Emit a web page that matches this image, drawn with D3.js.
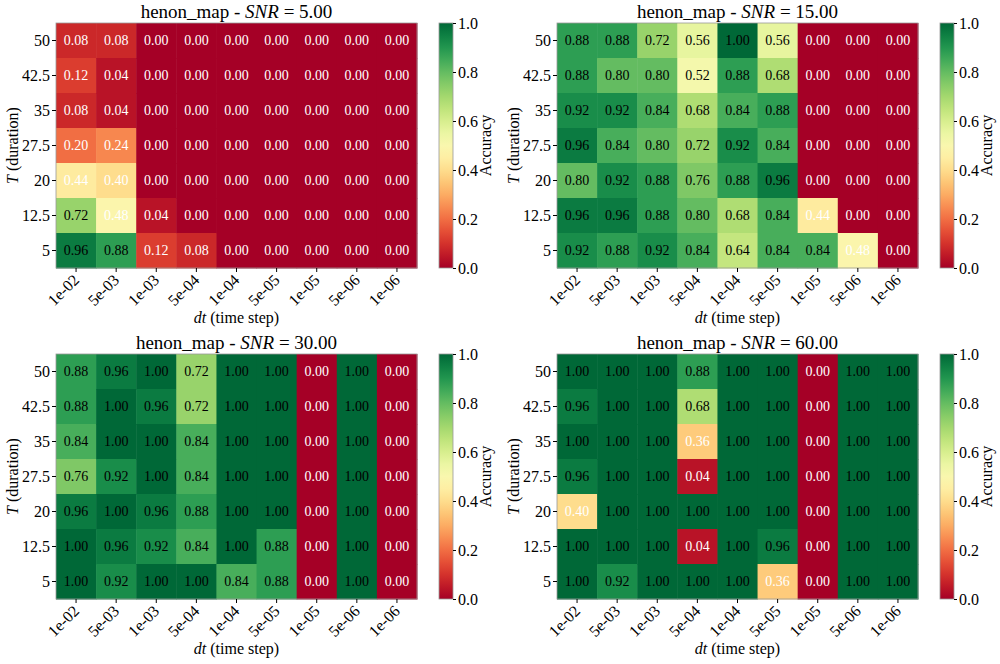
<!DOCTYPE html>
<html>
<head>
<meta charset="utf-8">
<script src="https://cdn.jsdelivr.net/npm/d3@7"></script>
<style>
  body { margin: 0; background: white; }
  svg text { font-family: "Liberation Serif", "DejaVu Serif", serif; fill: #000; }
</style>
</head>
<body>
<div id="chart"></div>
<script>
// axes labels
var dtLabels = ["1e-02", "5e-03", "1e-03", "5e-04", "1e-04", "5e-05", "1e-05", "5e-06", "1e-06"];
var tLabels = ["50", "42.5", "35", "27.5", "20", "12.5", "5"];
var snrValues = [5, 15, 30, 60];
var cbarTicks = [0, 0.2, 0.4, 0.6, 0.8, 1.0];

// accuracy grids, rows top (T=50) to bottom (T=5)
var accSnr5 = [
  [0.08, 0.08, 0.00, 0.00, 0.00, 0.00, 0.00, 0.00, 0.00],
  [0.12, 0.04, 0.00, 0.00, 0.00, 0.00, 0.00, 0.00, 0.00],
  [0.08, 0.04, 0.00, 0.00, 0.00, 0.00, 0.00, 0.00, 0.00],
  [0.20, 0.24, 0.00, 0.00, 0.00, 0.00, 0.00, 0.00, 0.00],
  [0.44, 0.40, 0.00, 0.00, 0.00, 0.00, 0.00, 0.00, 0.00],
  [0.72, 0.48, 0.04, 0.00, 0.00, 0.00, 0.00, 0.00, 0.00],
  [0.96, 0.88, 0.12, 0.08, 0.00, 0.00, 0.00, 0.00, 0.00]
];
var accSnr15 = [
  [0.88, 0.88, 0.72, 0.56, 1.00, 0.56, 0.00, 0.00, 0.00],
  [0.88, 0.80, 0.80, 0.52, 0.88, 0.68, 0.00, 0.00, 0.00],
  [0.92, 0.92, 0.84, 0.68, 0.84, 0.88, 0.00, 0.00, 0.00],
  [0.96, 0.84, 0.80, 0.72, 0.92, 0.84, 0.00, 0.00, 0.00],
  [0.80, 0.92, 0.88, 0.76, 0.88, 0.96, 0.00, 0.00, 0.00],
  [0.96, 0.96, 0.88, 0.80, 0.68, 0.84, 0.44, 0.00, 0.00],
  [0.92, 0.88, 0.92, 0.84, 0.64, 0.84, 0.84, 0.48, 0.00]
];
var accSnr30 = [
  [0.88, 0.96, 1.00, 0.72, 1.00, 1.00, 0.00, 1.00, 0.00],
  [0.88, 1.00, 0.96, 0.72, 1.00, 1.00, 0.00, 1.00, 0.00],
  [0.84, 1.00, 1.00, 0.84, 1.00, 1.00, 0.00, 1.00, 0.00],
  [0.76, 0.92, 1.00, 0.84, 1.00, 1.00, 0.00, 1.00, 0.00],
  [0.96, 1.00, 0.96, 0.88, 1.00, 1.00, 0.00, 1.00, 0.00],
  [1.00, 0.96, 0.92, 0.84, 1.00, 0.88, 0.00, 1.00, 0.00],
  [1.00, 0.92, 1.00, 1.00, 0.84, 0.88, 0.00, 1.00, 0.00]
];
var accSnr60 = [
  [1.00, 1.00, 1.00, 0.88, 1.00, 1.00, 0.00, 1.00, 1.00],
  [0.96, 1.00, 1.00, 0.68, 1.00, 1.00, 0.00, 1.00, 1.00],
  [1.00, 1.00, 1.00, 0.36, 1.00, 1.00, 0.00, 1.00, 1.00],
  [0.96, 1.00, 1.00, 0.04, 1.00, 1.00, 0.00, 1.00, 1.00],
  [0.40, 1.00, 1.00, 1.00, 1.00, 1.00, 0.00, 1.00, 1.00],
  [1.00, 1.00, 1.00, 0.04, 1.00, 0.96, 0.00, 1.00, 1.00],
  [1.00, 0.92, 1.00, 1.00, 1.00, 0.36, 0.00, 1.00, 1.00]
];
var grids = [accSnr5, accSnr15, accSnr30, accSnr60];

var W = 1000, H = 664;
var svg = d3.select("#chart").append("svg")
    .attr("width", W)
    .attr("height", H)
    .style("background-color", "white");

var color = d3.scaleSequential(d3.interpolateRdYlGn).domain([0, 1]);

// panel origins (top-left of the heatmap)
var origins = [[56, 23], [557, 23], [56, 354], [557, 354]];
var pw = 361, ph = 245;

grids.forEach(function(grid, k) {
  var g = svg.append("g")
      .attr("transform", "translate(" + origins[k][0] + "," + origins[k][1] + ")");

  var x = d3.scaleBand().domain(dtLabels).range([0, pw]);
  var y = d3.scaleBand().domain(tLabels).range([0, ph]);

  var cells = [];
  grid.forEach(function(row, i) {
    row.forEach(function(v, j) {
      cells.push({t: tLabels[i], dt: dtLabels[j], v: v});
    });
  });

  g.selectAll("rect.cell")
    .data(cells)
    .enter().append("rect")
      .attr("class", "cell")
      .attr("x", function(d) { return x(d.dt); })
      .attr("y", function(d) { return y(d.t); })
      .attr("width", x.bandwidth() + 0.5)
      .attr("height", y.bandwidth() + 0.5)
      .attr("fill", function(d) { return color(d.v); });

  g.selectAll("text.val")
    .data(cells)
    .enter().append("text")
      .attr("class", "val")
      .attr("x", function(d) { return x(d.dt) + x.bandwidth() / 2; })
      .attr("y", function(d) { return y(d.t) + y.bandwidth() / 2; })
      .attr("dy", "0.35em")
      .attr("text-anchor", "middle")
      .style("font-size", "14px")
      .style("fill", function(d) { return d.v < 0.5 ? "#fff" : "#000"; })
      .text(function(d) { return d.v.toFixed(2); });

  // frame
  g.append("rect")
    .attr("width", pw).attr("height", ph)
    .attr("fill", "none").attr("stroke", "#999").attr("stroke-width", 0.8);

  // y axis
  var yAxis = g.append("g").call(d3.axisLeft(y).tickSize(4).tickPadding(2));
  yAxis.attr("font-family", null).attr("font-size", null);
  yAxis.select(".domain").remove();
  yAxis.selectAll("text").style("font-size", "16px");

  // x axis
  var xAxis = g.append("g")
      .attr("transform", "translate(0," + ph + ")")
      .call(d3.axisBottom(x).tickSize(4));
  xAxis.attr("font-family", null).attr("font-size", null);
  xAxis.select(".domain").remove();
  xAxis.selectAll("text")
      .style("font-size", "16px")
      .attr("text-anchor", "end")
      .attr("x", 0).attr("y", 0).attr("dy", null)
      .attr("transform", "translate(4,13) rotate(-45)");

  // axis titles
  var xt = g.append("text")
      .attr("x", pw / 2).attr("y", ph + 55)
      .attr("text-anchor", "middle")
      .style("font-size", "16px");
  xt.append("tspan").style("font-style", "italic").text("dt");
  xt.append("tspan").text(" (time step)");

  var yt = g.append("text")
      .attr("transform", "translate(-38," + (ph / 2) + ") rotate(-90)")
      .attr("text-anchor", "middle")
      .style("font-size", "16px");
  yt.append("tspan").style("font-style", "italic").text("T");
  yt.append("tspan").text(" (duration)");

  // title
  var title = g.append("text")
      .attr("x", pw / 2).attr("y", -5)
      .attr("text-anchor", "middle")
      .style("font-size", "19px");
  title.append("tspan").text("henon_map - ");
  title.append("tspan").style("font-style", "italic").text("SNR");
  title.append("tspan").text(" = " + snrValues[k].toFixed(2));

  // colorbar
  var cbx = pw + 22, cbw = 14;
  var cy = d3.scaleLinear().domain([0, 1]).range([ph, 0]);
  var gradId = "grad" + k;
  var grad = svg.append("defs").append("linearGradient")
      .attr("id", gradId)
      .attr("x1", 0).attr("y1", 1).attr("x2", 0).attr("y2", 0);
  d3.range(0, 1.0001, 0.05).forEach(function(s) {
    grad.append("stop").attr("offset", s).attr("stop-color", color(s));
  });
  var cb = g.append("g").attr("transform", "translate(" + cbx + ",0)");
  cb.append("rect")
    .attr("width", cbw).attr("height", ph)
    .attr("fill", "url(#" + gradId + ")")
    .attr("stroke", "#999").attr("stroke-width", 0.8);
  var cbAxis = cb.append("g")
      .attr("transform", "translate(" + cbw + ",0)")
      .call(d3.axisRight(cy).tickValues(cbarTicks).tickFormat(d3.format(".1f")).tickSize(3).tickPadding(2));
  cbAxis.attr("font-family", null).attr("font-size", null);
  cbAxis.select(".domain").remove();
  cbAxis.selectAll("text").style("font-size", "16px");
  cb.append("text")
    .attr("transform", "translate(" + (cbw + 38) + "," + (ph / 2) + ") rotate(-90)")
    .attr("text-anchor", "middle")
    .style("font-size", "16px")
    .text("Accuracy");
});
</script>
</body>
</html>
